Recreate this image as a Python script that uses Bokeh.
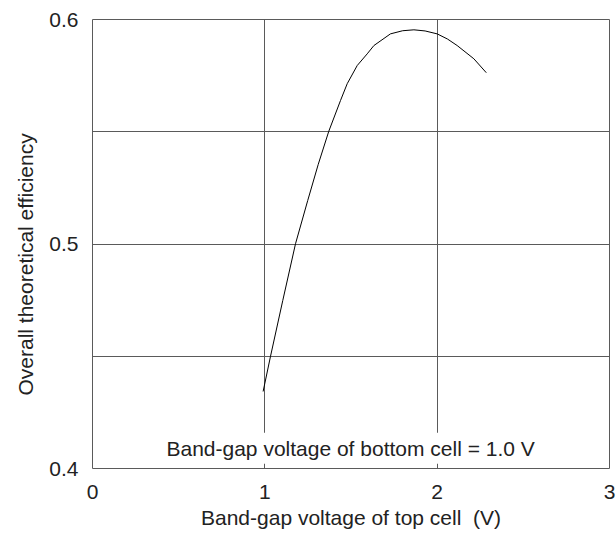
from bokeh.plotting import figure
from bokeh.models import FixedTicker, Label, Range1d, Title
from bokeh.embed import file_html
from bokeh.resources import INLINE

# Data
top_gap = [0.99, 1.033, 1.104, 1.178, 1.249, 1.31, 1.371, 1.439, 1.478, 1.536,
           1.594, 1.633, 1.729, 1.80, 1.865, 1.93, 2.0, 2.06, 2.116, 2.213, 2.285]
efficiency = [0.4343, 0.45, 0.4748, 0.5001, 0.5194, 0.5355, 0.5502, 0.5639, 0.5714, 0.5795,
              0.5847, 0.5884, 0.5936, 0.5950, 0.5954, 0.5949, 0.5936, 0.5913, 0.5884, 0.5825, 0.5763]
x_ticks = [0, 1, 2, 3]
y_ticks = [0.4, 0.5, 0.6]
x_grid = [1, 2]
y_grid = [0.45, 0.5, 0.55]
note_text = "Band-gap voltage of bottom cell = 1.0 V"
x_title = "Band-gap voltage of top cell \u00a0(V)"
y_title = "Overall theoretical efficiency"

FONT = "Liberation Sans"
FS = "21px"
GRID = "#5a5a5a"
TXT = "#222222"
W, H = 616, 536

p = figure(width=W, height=H, output_backend="svg", toolbar_location=None,
           x_range=Range1d(0, 3), y_range=Range1d(0.4, 0.6),
           min_border_left=92, min_border_right=7, min_border_top=19, min_border_bottom=68)

p.outline_line_color = GRID
p.outline_line_width = 1
p.background_fill_color = "white"
p.border_fill_color = "white"

p.xaxis.ticker = FixedTicker(ticks=x_ticks)
p.yaxis.ticker = FixedTicker(ticks=y_ticks)
p.xgrid.ticker = FixedTicker(ticks=x_grid)
p.ygrid.ticker = FixedTicker(ticks=y_grid)
for g in (p.xgrid, p.ygrid):
    g.grid_line_color = GRID
    g.grid_line_width = 1

p.xaxis.major_label_overrides = {0: "0", 1: "1", 2: "2", 3: "3"}
p.yaxis.major_label_overrides = {0.4: "0.4", 0.5: "0.5", 0.6: "0.6"}

for ax in (p.xaxis, p.yaxis):
    ax.axis_line_color = None
    ax.major_tick_line_color = None
    ax.minor_tick_line_color = None
    ax.major_tick_out = 0
    ax.major_tick_in = 0
    ax.major_label_text_font = FONT
    ax.major_label_text_font_size = FS
    ax.major_label_text_color = TXT
    ax.axis_label_text_font = FONT
    ax.axis_label_text_font_size = FS
    ax.axis_label_text_font_style = "normal"
    ax.axis_label_text_color = TXT

p.xaxis.axis_label = x_title
p.xaxis.major_label_standoff = 16
p.yaxis.major_label_standoff = 14
p.xaxis.axis_label_standoff = 4

# y-axis title as a left-side title, starting a little above the frame bottom
ylab = Title(text=y_title, align="left", offset=73, standoff=20,
             text_font=FONT, text_font_size=FS, text_font_style="normal", text_color=TXT)
p.add_layout(ylab, "left")

p.line(top_gap, efficiency, line_color="black", line_width=1)

note = Label(x=0.406, y=0.409, text=note_text, text_font=FONT, text_font_size=FS,
             text_color=TXT, text_baseline="alphabetic",
             background_fill_color="white", padding=4)
p.add_layout(note)

open("out.html", "w").write(file_html(p, INLINE))
